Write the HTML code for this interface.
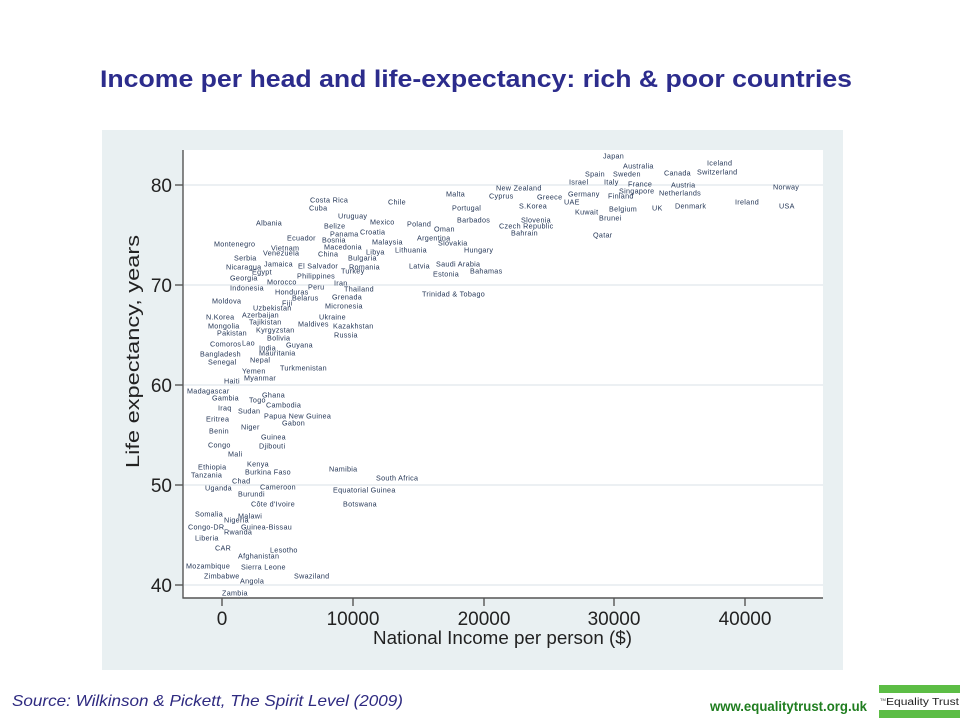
<!DOCTYPE html>
<html>
<head>
<meta charset="utf-8">
<style>
  html,body{margin:0;padding:0;background:#ffffff;}
  body{width:960px;height:720px;overflow:hidden;}
  svg{display:block;}
  .lb{font-family:"Liberation Sans",Arial,sans-serif;font-size:7.2px;letter-spacing:0.3px;fill:#243656;}
  .tk{font-family:"Liberation Sans",Arial,sans-serif;font-size:19px;fill:#222;}
</style>
</head>
<body>
<svg width="960" height="720" viewBox="0 0 960 720" xmlns="http://www.w3.org/2000/svg">
  <!-- Title -->
  <text x="100" y="87" font-family="Liberation Sans, Arial, sans-serif" font-weight="bold" font-size="24" fill="#2c2c8c" textLength="752" lengthAdjust="spacingAndGlyphs">Income per head and life-expectancy: rich &amp; poor countries</text>

  <!-- Panel -->
  <rect x="102" y="130" width="741" height="540" fill="#e9f0f2"/>
  <rect x="183" y="150" width="640" height="448" fill="#ffffff"/>

  <!-- gridlines -->
  <g stroke="#e6ecef" stroke-width="1.6">
    <line x1="184" y1="185" x2="823" y2="185"/>
    <line x1="184" y1="285" x2="823" y2="285"/>
    <line x1="184" y1="385" x2="823" y2="385"/>
    <line x1="184" y1="485" x2="823" y2="485"/>
    <line x1="184" y1="585" x2="823" y2="585"/>
  </g>

  <!-- axes -->
  <g stroke="#555" stroke-width="1.4">
    <line x1="183" y1="150" x2="183" y2="598.5"/>
    <line x1="182.5" y1="598" x2="823" y2="598"/>
    <line x1="175" y1="185" x2="183" y2="185"/>
    <line x1="175" y1="285" x2="183" y2="285"/>
    <line x1="175" y1="385" x2="183" y2="385"/>
    <line x1="175" y1="485" x2="183" y2="485"/>
    <line x1="175" y1="585" x2="183" y2="585"/>
    <line x1="222" y1="598" x2="222" y2="606"/>
    <line x1="353" y1="598" x2="353" y2="606"/>
    <line x1="484" y1="598" x2="484" y2="606"/>
    <line x1="614" y1="598" x2="614" y2="606"/>
    <line x1="745" y1="598" x2="745" y2="606"/>
  </g>

  <!-- y tick labels -->
  <g class="tk" text-anchor="end">
    <text x="172" y="192">80</text>
    <text x="172" y="292">70</text>
    <text x="172" y="392">60</text>
    <text x="172" y="492">50</text>
    <text x="172" y="592">40</text>
  </g>
  <!-- x tick labels -->
  <g class="tk" text-anchor="middle">
    <text x="222" y="625">0</text>
    <text x="353" y="625">10000</text>
    <text x="484" y="625">20000</text>
    <text x="614" y="625">30000</text>
    <text x="745" y="625">40000</text>
  </g>
  <!-- axis titles -->
  <text x="373" y="644" font-family="Liberation Sans, Arial, sans-serif" font-size="18" fill="#222" textLength="259" lengthAdjust="spacingAndGlyphs">National Income per person ($)</text>
  <text transform="translate(139,468) rotate(-90)" x="0" y="0" font-family="Liberation Sans, Arial, sans-serif" font-size="18" fill="#222" textLength="233" lengthAdjust="spacingAndGlyphs">Life expectancy, years</text>

  <!-- country labels -->
  <g class="lb">
    <text x="603" y="158.5">Japan</text>
    <text x="623" y="168.5">Australia</text>
    <text x="707" y="165.5">Iceland</text>
    <text x="585" y="176.5">Spain</text>
    <text x="613" y="176.5">Sweden</text>
    <text x="664" y="175.5">Canada</text>
    <text x="697" y="174.5">Switzerland</text>
    <text x="569" y="184.5">Israel</text>
    <text x="604" y="184.5">Italy</text>
    <text x="628" y="186.5">France</text>
    <text x="671" y="187.5">Austria</text>
    <text x="496" y="190.5">New Zealand</text>
    <text x="773" y="189.5">Norway</text>
    <text x="619" y="193.5">Singapore</text>
    <text x="659" y="195.5">Netherlands</text>
    <text x="568" y="196.5">Germany</text>
    <text x="446" y="196.5">Malta</text>
    <text x="489" y="198.5">Cyprus</text>
    <text x="537" y="199.5">Greece</text>
    <text x="608" y="198.5">Finland</text>
    <text x="564" y="204.5">UAE</text>
    <text x="735" y="204.5">Ireland</text>
    <text x="519" y="208.5">S.Korea</text>
    <text x="452" y="210.5">Portugal</text>
    <text x="652" y="210.5">UK</text>
    <text x="675" y="208.5">Denmark</text>
    <text x="779" y="208.5">USA</text>
    <text x="609" y="211.5">Belgium</text>
    <text x="575" y="214.5">Kuwait</text>
    <text x="599" y="220.5">Brunei</text>
    <text x="457" y="222.5">Barbados</text>
    <text x="521" y="222.5">Slovenia</text>
    <text x="499" y="228.5">Czech Republic</text>
    <text x="511" y="235.5">Bahrain</text>
    <text x="593" y="237.5">Qatar</text>
    <text x="407" y="226.5">Poland</text>
    <text x="434" y="231.5">Oman</text>
    <text x="417" y="240.5">Argentina</text>
    <text x="438" y="245.5">Slovakia</text>
    <text x="395" y="252.5">Lithuania</text>
    <text x="464" y="252.5">Hungary</text>
    <text x="409" y="268.5">Latvia</text>
    <text x="436" y="266.5">Saudi Arabia</text>
    <text x="433" y="276.5">Estonia</text>
    <text x="470" y="273.5">Bahamas</text>
    <text x="422" y="296.5">Trinidad &amp; Tobago</text>
    <text x="388" y="204.5">Chile</text>

    <text x="310" y="202.5">Costa Rica</text>
    <text x="309" y="210.5">Cuba</text>
    <text x="338" y="218.5">Uruguay</text>
    <text x="256" y="225.5">Albania</text>
    <text x="370" y="224.5">Mexico</text>
    <text x="324" y="228.5">Belize</text>
    <text x="330" y="236.5">Panama</text>
    <text x="360" y="234.5">Croatia</text>
    <text x="287" y="240.5">Ecuador</text>
    <text x="322" y="242.5">Bosnia</text>
    <text x="372" y="244.5">Malaysia</text>
    <text x="214" y="246.5">Montenegro</text>
    <text x="271" y="250.5">Vietnam</text>
    <text x="263" y="255.5">Venezuela</text>
    <text x="324" y="249.5">Macedonia</text>
    <text x="318" y="256.5">China</text>
    <text x="366" y="254.5">Libya</text>
    <text x="234" y="260.5">Serbia</text>
    <text x="348" y="260.5">Bulgaria</text>
    <text x="226" y="269.5">Nicaragua</text>
    <text x="264" y="266.5">Jamaica</text>
    <text x="298" y="268.5">El Salvador</text>
    <text x="349" y="269.5">Romania</text>
    <text x="341" y="273.5">Turkey</text>
    <text x="252" y="274.5">Egypt</text>
    <text x="230" y="280.5">Georgia</text>
    <text x="297" y="278.5">Philippines</text>
    <text x="267" y="284.5">Morocco</text>
    <text x="334" y="285.5">Iran</text>
    <text x="230" y="290.5">Indonesia</text>
    <text x="308" y="289.5">Peru</text>
    <text x="344" y="291.5">Thailand</text>
    <text x="275" y="294.5">Honduras</text>
    <text x="292" y="300.5">Belarus</text>
    <text x="332" y="299.5">Grenada</text>

    <text x="212" y="303.5">Moldova</text>
    <text x="282" y="305.5">Fiji</text>
    <text x="325" y="308.5">Micronesia</text>
    <text x="253" y="310.5">Uzbekistan</text>
    <text x="242" y="317.5">Azerbaijan</text>
    <text x="206" y="319.5">N.Korea</text>
    <text x="319" y="319.5">Ukraine</text>
    <text x="208" y="328.5">Mongolia</text>
    <text x="249" y="324.5">Tajikistan</text>
    <text x="298" y="326.5">Maldives</text>
    <text x="333" y="328.5">Kazakhstan</text>
    <text x="217" y="335.5">Pakistan</text>
    <text x="256" y="332.5">Kyrgyzstan</text>
    <text x="334" y="337.5">Russia</text>
    <text x="267" y="340.5">Bolivia</text>
    <text x="210" y="346.5">Comoros</text>
    <text x="242" y="345.5">Lao</text>
    <text x="286" y="347.5">Guyana</text>
    <text x="259" y="350.5">India</text>
    <text x="259" y="355.5">Mauritania</text>
    <text x="200" y="356.5">Bangladesh</text>
    <text x="250" y="362.5">Nepal</text>
    <text x="208" y="364.5">Senegal</text>
    <text x="280" y="370.5">Turkmenistan</text>
    <text x="242" y="373.5">Yemen</text>
    <text x="244" y="380.5">Myanmar</text>
    <text x="224" y="383.5">Haiti</text>
    <text x="187" y="393.5">Madagascar</text>
    <text x="262" y="397.5">Ghana</text>
    <text x="212" y="400.5">Gambia</text>
    <text x="249" y="402.5">Togo</text>
    <text x="266" y="407.5">Cambodia</text>
    <text x="218" y="410.5">Iraq</text>
    <text x="238" y="413.5">Sudan</text>
    <text x="264" y="418.5">Papua New Guinea</text>
    <text x="206" y="421.5">Eritrea</text>
    <text x="282" y="425.5">Gabon</text>
    <text x="241" y="429.5">Niger</text>
    <text x="209" y="433.5">Benin</text>
    <text x="261" y="439.5">Guinea</text>
    <text x="208" y="447.5">Congo</text>
    <text x="259" y="448.5">Djibouti</text>

    <text x="228" y="456.5">Mali</text>
    <text x="198" y="469.5">Ethiopia</text>
    <text x="247" y="466.5">Kenya</text>
    <text x="245" y="474.5">Burkina Faso</text>
    <text x="329" y="471.5">Namibia</text>
    <text x="191" y="477.5">Tanzania</text>
    <text x="376" y="480.5">South Africa</text>
    <text x="232" y="483.5">Chad</text>
    <text x="205" y="490.5">Uganda</text>
    <text x="260" y="489.5">Cameroon</text>
    <text x="238" y="496.5">Burundi</text>
    <text x="333" y="492.5">Equatorial Guinea</text>
    <text x="251" y="506.5">Côte d'Ivoire</text>
    <text x="343" y="506.5">Botswana</text>
    <text x="195" y="516.5">Somalia</text>
    <text x="238" y="518.5">Malawi</text>
    <text x="224" y="522.5">Nigeria</text>
    <text x="188" y="529.5">Congo-DR</text>
    <text x="241" y="529.5">Guinea-Bissau</text>
    <text x="224" y="534.5">Rwanda</text>
    <text x="195" y="540.5">Liberia</text>
    <text x="215" y="550.5">CAR</text>
    <text x="270" y="552.5">Lesotho</text>
    <text x="238" y="558.5">Afghanistan</text>
    <text x="186" y="568.5">Mozambique</text>
    <text x="241" y="569.5">Sierra Leone</text>
    <text x="204" y="578.5">Zimbabwe</text>
    <text x="240" y="583.5">Angola</text>
    <text x="294" y="578.5">Swaziland</text>
    <text x="222" y="595.5">Zambia</text>
  </g>

  <!-- footer -->
  <text x="12" y="706" font-family="Liberation Sans, Arial, sans-serif" font-style="italic" font-size="16" fill="#2e2a80" textLength="391" lengthAdjust="spacingAndGlyphs">Source: Wilkinson &amp; Pickett, The Spirit Level (2009)</text>
  <text x="710" y="711" font-family="Liberation Sans, Arial, sans-serif" font-weight="bold" font-size="14" fill="#1f7d1f" textLength="157" lengthAdjust="spacingAndGlyphs">www.equalitytrust.org.uk</text>

  <!-- logo -->
  <rect x="879" y="685" width="81" height="8" fill="#5cbd45"/>
  <rect x="879" y="710" width="81" height="8" fill="#5cbd45"/>
  <text x="880" y="701" font-family="Liberation Sans, Arial, sans-serif" font-size="4" fill="#333">TM</text>
  <text x="886" y="705" font-family="Liberation Sans, Arial, sans-serif" font-size="10" fill="#222" textLength="73" lengthAdjust="spacingAndGlyphs">Equality Trust</text>
</svg>
</body>
</html>
